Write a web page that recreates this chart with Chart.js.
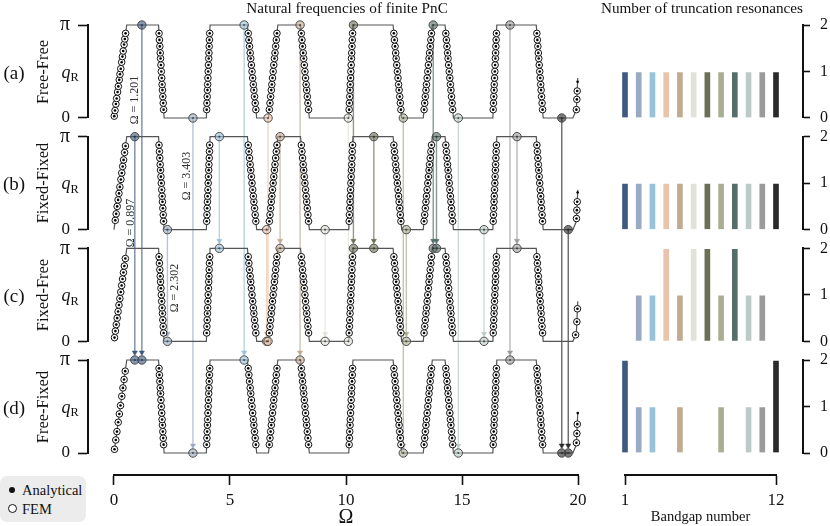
<!DOCTYPE html>
<html>
<head>
<meta charset="utf-8">
<title>Natural frequencies of finite PnC</title>
<script src="https://cdn.jsdelivr.net/npm/chart.js@4.4.1/dist/chart.umd.min.js"></script>
<style>
html,body{margin:0;padding:0;background:#fff;}
#wrap{position:relative;width:830px;height:526px;overflow:hidden;font-family:"Liberation Serif","Times New Roman",serif;color:#111;}
#wrap canvas{position:absolute;top:0;}
.t{position:absolute;white-space:nowrap;line-height:1;}
.c{transform:translate(-50%,-50%);}
.r{transform:translate(-50%,-50%) rotate(-90deg);}
#legend{position:absolute;left:0;top:476px;width:86px;height:46px;background:#ececec;border-radius:7px;}
.lg{position:absolute;left:22px;font-size:14.5px;line-height:1;}
.dot{position:absolute;left:9px;width:6px;height:6px;border-radius:50%;background:#111;}
.ring{position:absolute;left:8px;width:7px;height:7px;border-radius:50%;border:1px solid #111;background:#fff;}
</style>
</head>
<body>
<div id="wrap">
  <canvas id="main" width="600" height="526" style="left:0;width:600px;height:526px"></canvas>
  <canvas id="bars" width="230" height="526" style="left:600px;width:230px;height:526px"></canvas>
  <div id="legend">
    <div class="dot" style="top:11px"></div><div class="lg" style="top:7px">Analytical</div>
    <div class="ring" style="top:28px"></div><div class="lg" style="top:26px">FEM</div>
  </div>
</div>
<script>
const PI = Math.PI;
const SERIF = "'Liberation Serif','Times New Roman',serif";

// ---------------- data ----------------
// dispersion curve of the infinite PnC: vertices (Omega, q_R / pi)
const curveOmega = [0.00,0.55, 1.92,2.16, 3.98,4.14, 5.75,6.15, 6.66,7.06, 8.04,8.42, 10.12,10.30, 12.03,12.40, 13.33,13.72, 14.27,14.63, 16.33,16.50, 18.20,18.50, 19.78,19.93,19.99];
const curveQ     = [0,1, 1,0, 0,1, 1,0, 0,1, 1,0, 0,1, 1,0, 0,1, 1,0, 0,1, 1,0, 0,0.09,0.43];

// q_R/pi levels of the natural frequencies inside a pass band
const qBandLevels = [0.09,0.16,0.23,0.30,0.36,0.43,0.50,0.57,0.64,0.70,0.77,0.84,0.91];
const qBand1A = [0.02,0.08,0.15,0.21,0.28,0.34,0.41,0.47,0.53,0.60,0.66,0.72,0.79,0.85,0.91];
const qBand1B = [0.10,0.17,0.25,0.32,0.39,0.46,0.54,0.61,0.68,0.75,0.83,0.90];
const qBand1C = [0.04,0.11,0.18,0.25,0.32,0.39,0.46,0.53,0.60,0.67,0.74,0.81,0.89];
const qBand1D = [0.04,0.14,0.23,0.33,0.42,0.51,0.61,0.70,0.79,0.88];
const qBand13A = [0.09,0.20,0.29];
const qBand13B = [0.12,0.21,0.30];
const qBand13C = [0.07,0.21,0.35];
const qBand13D = [0.11,0.21,0.31];
const qOnlyA = [0.39];
const qOnlyB = [0.40];
const qOnlyC = [];
const qOnlyD = [0.43];

// truncation resonances (Omega, bandgap number, source panel)
const resA_omega = [1.201,3.403,5.61,6.64,8.02,10.10,10.32,12.47,13.76,14.84,17.07,19.30];
const resA_gap   = [1,2,3,4,5,6,7,8,9,10,11,12];
const resB_omega = [0.897,2.302,4.54,6.58,7.16,9.10,11.20,12.60,13.90,15.95,17.37,19.58];
const resB_gap   = [1,2,3,4,5,6,7,8,9,10,11,12];
const resC_omega = [2.302,4.54,6.58,6.64,7.16,9.10,10.10,10.32,11.20,12.60,13.76,13.90,15.95,17.37];
const resC_gap   = [2,3,4,4,5,6,6,7,7,8,9,9,10,11];
const resC_src   = ['b','b','b','a','b','b','a','a','b','b','a','b','b','b'];
const resD_omega = [0.897,1.201,3.403,5.61,8.02,12.47,14.84,17.07,19.30,19.58];
const resD_gap   = [1,1,2,3,5,8,10,11,12,12];
const resD_src   = ['b','a','a','a','a','a','a','a','a','b'];

// number of truncation resonances per bandgap
const bandgapNumbers = [1,2,3,4,5,6,7,8,9,10,11,12];
const countsA = [1,1,1,1,1,1,1,1,1,1,1,1];
const countsB = [1,1,1,1,1,1,1,1,1,1,1,1];
const countsC = [0,1,1,2,1,2,2,1,2,1,1,0];
const countsD = [2,1,1,0,1,0,0,1,0,1,1,2];
const gapColors = ['#3e5a80','#9aabc1','#98c2da','#e9c4ab','#c1aa8f','#e1e2da','#6a6f55','#a9ae93','#556e69','#bccbc7','#9b9b9b','#2a2a2a'];

const xTicks = [0,5,10,15,20];
const yTickVals = [0, PI];
const yTickLabels = ['0','π'];
const barYTicks = [0,1,2];
const barXTicks = [1,12];
const panelLetters = ['(a)','(b)','(c)','(d)'];
const bcNames = ['Free-Free','Fixed-Fixed','Fixed-Free','Free-Fixed'];
const omegaLabels = [ // [panel, Omega]
  [0, resA_omega[0]], [1, resB_omega[0]], [1, resA_omega[1]], [2, resB_omega[1]]
];

// ---------------- layout constants ----------------
const PANEL_PX = 93, GAP_PX = 18.67, TOP_PX = 25;
const GAPU = PI * GAP_PX / PANEL_PX;
const YMAX = 4*PI + 3*GAPU;
const PXU = PI / PANEL_PX;
function yAll(p, qf){ return YMAX - p*(PI+GAPU) - PI + qf*PI; }

// bands = runs of non-flat curve segments
const BANDS = (function(){ const out=[]; let cur=null;
  for (let i=0;i<curveOmega.length-1;i++){
    if (curveQ[i]!==curveQ[i+1]) { if(!cur){cur=[i];out.push(cur);} cur.push(i+1);} else cur=null;
  } return out; })();
function omegaAt(b, q){
  const idx = BANDS[b];
  for (let k=0;k<idx.length-1;k++){
    const i=idx[k], j=idx[k+1];
    const lo=Math.min(curveQ[i],curveQ[j]), hi=Math.max(curveQ[i],curveQ[j]);
    if (q>=lo && q<=hi){ const t=(q-curveQ[i])/(curveQ[j]-curveQ[i]); return curveOmega[i]+t*(curveOmega[j]-curveOmega[i]); }
  }
  return curveOmega[idx[idx.length-1]];
}
function gapLevel(g){ const b = BANDS[g-1]; return curveQ[b[b.length-1]]; }
function rgba(hex,a){ const n=parseInt(hex.slice(1),16); return `rgba(${n>>16},${(n>>8)&255},${n&255},${a})`; }

const axisIds = ['pa','pb','pc','pd'];
const panelDefs = [
  {q1:qBand1A, q13:qBand13A, qOnly:qOnlyA, resOmega:resA_omega, resGap:resA_gap},
  {q1:qBand1B, q13:qBand13B, qOnly:qOnlyB, resOmega:resB_omega, resGap:resB_gap},
  {q1:qBand1C, q13:qBand13C, qOnly:qOnlyC, resOmega:resC_omega, resGap:resC_gap},
  {q1:qBand1D, q13:qBand13D, qOnly:qOnlyD, resOmega:resD_omega, resGap:resD_gap}
];

Chart.defaults.font.family = SERIF;
Chart.defaults.color = '#111';

const datasets = [];
panelDefs.forEach((pd, p) => {
  const ax = axisIds[p];
  datasets.push({ label:'curve'+p, yAxisID:ax, xAxisID:'x', showLine:true,
    data: curveOmega.map((o,i)=>({x:o, y:curveQ[i]*PI})),
    borderColor:'#555', borderWidth:1.2, pointRadius:0, order:8, clip:false });
  const fem = [], ana = [];
  for (let b=0;b<BANDS.length;b++){
    const lv = b===0 ? pd.q1 : (b===BANDS.length-1 ? pd.q13 : qBandLevels);
    lv.forEach(q => { const pt={x:omegaAt(b,q), y:q*PI}; fem.push(pt); ana.push(pt); });
  }
  pd.qOnly.forEach(q => ana.push({x:omegaAt(BANDS.length-1,q), y:q*PI}));
  datasets.push({ label:'fem'+p, yAxisID:ax, xAxisID:'x', data:fem, pointRadius:3.3, pointHoverRadius:3.3,
    pointBackgroundColor:'#fff', pointBorderColor:'#111', pointBorderWidth:1, order:4, clip:false });
  datasets.push({ label:'ana'+p, yAxisID:ax, xAxisID:'x', data:ana, pointRadius:1.3, pointHoverRadius:1.3,
    pointBackgroundColor:'#000', pointBorderWidth:0, order:3, clip:false });
  const res = pd.resOmega.map((o,i)=>({x:o, y:gapLevel(pd.resGap[i])*PI}));
  datasets.push({ label:'res'+p, yAxisID:ax, xAxisID:'x', data:res, pointRadius:4.2, pointHoverRadius:4.2,
    pointBackgroundColor: pd.resGap.map(g=>rgba(gapColors[g-1],0.62)), pointBorderColor:'#4a4a4a', pointBorderWidth:1, order:2, clip:false });
  datasets.push({ label:'resc'+p, yAxisID:ax, xAxisID:'x', data:res, pointRadius:1.1, pointHoverRadius:1.1,
    pointBackgroundColor:'rgba(20,20,20,0.6)', pointBorderWidth:0, order:1, clip:false });
});

// connectors from (a)/(b) to (c)/(d)
[[2,resC_omega,resC_gap,resC_src],[3,resD_omega,resD_gap,resD_src]].forEach(([pt,om,gp,src]) => {
  om.forEach((o,i) => {
    const lvl = gapLevel(gp[i]);
    const ps = src[i]==='a' ? 0 : 1;
    const col = gapColors[gp[i]-1];
    const yEnd = yAll(pt,lvl) + 7.5*PXU;
    datasets.push({ label:'conn', yAxisID:'yAll', xAxisID:'x', showLine:true,
      data:[{x:o,y:yAll(ps,lvl)},{x:o,y:yEnd}], borderColor:rgba(col,0.7), borderWidth:1.4,
      pointRadius:0, order:9, clip:false });
    datasets.push({ label:'arrow', yAxisID:'yAll', xAxisID:'x', data:[{x:o,y:yEnd}],
      pointStyle:'triangle', pointRotation:180, pointRadius:3, pointHoverRadius:3,
      pointBackgroundColor:col, pointBorderColor:col, pointBorderWidth:0.5, order:7, clip:false });
  });
});

function panelAxisL(weight){ return {
  type:'linear', position:'left', stack:'p', stackWeight:PI, weight, min:0, max:PI,
  afterBuildTicks: s => { s.ticks = yTickVals.map(v=>({value:v})); },
  afterFit: s => { s.width = 40; },
  ticks:{ padding:8, color:'#111', autoSkip:false,
    font: c => ({family:SERIF, size: (c.tick && c.tick.value>0) ? 20 : 17}),
    callback: v => yTickLabels[yTickVals.indexOf(v)] },
  grid:{ drawOnChartArea:false, drawTicks:true, tickLength:10, tickWidth:1.6, tickColor:'#111' },
  border:{ display:true, color:'#111', width:2 }
};}
function gapAxis(pos, weight){ return { type:'linear', position:pos, stack:'p', stackWeight:GAPU, weight, display:false, min:0, max:1 }; }
function spacer(pos, weight, size){ return { type:'linear', position:pos, weight, min:0, max:1, display:true,
  ticks:{display:false}, grid:{display:false}, border:{display:false},
  afterFit: s => { if (pos==='left'||pos==='right') s.width=size; else s.height=size; } }; }

const mainScales = {
  x: { type:'linear', position:'bottom', weight:1, min:0, max:20, offset:false,
    afterBuildTicks: s => { s.ticks = xTicks.map(v=>({value:v})); },
    afterFit: s => { s.height = 51; },
    ticks:{ padding:5, font:{size:17}, color:'#111' },
    grid:{ drawOnChartArea:false, offset:false, tickLength:10, tickWidth:1.6, tickColor:'#111' },
    border:{ color:'#111', width:2 },
    title:{ display:true, text:'Ω', font:{size:20, lineHeight:0.8}, padding:{top:0,bottom:0}, color:'#111' } },
  xsp: spacer('bottom', 0, 22),
  sp: spacer('left', 1, 26),
  yAll: { type:'linear', position:'left', weight:0, display:false, min:0, max:YMAX }
};
axisIds.forEach((id,p) => { mainScales[id] = panelAxisL(20-2*p); if (p<3) mainScales['g'+(p+1)] = gapAxis('left', 19-2*p); });

new Chart(document.getElementById('main'), {
  type:'scatter',
  data:{ datasets },
  options:{ responsive:false, animation:false, events:[],
    layout:{ padding:{ left:48, right:22, top:TOP_PX, bottom:0 } },
    plugins:{ legend:{display:false}, tooltip:{enabled:false}, title:{display:false} },
    scales: mainScales }
});

// ---------------- bars ----------------
function panelAxisR(weight){ return {
  type:'linear', position:'right', stack:'p', stackWeight:PI, weight, min:0, max:2,
  afterBuildTicks: s => { s.ticks = barYTicks.map(v=>({value:v})); },
  afterFit: s => { s.width = 27; },
  ticks:{ padding:10, font:{size:16}, color:'#111' },
  grid:{ drawOnChartArea:false, tickLength:7, tickWidth:1.6, tickColor:'#111' },
  border:{ color:'#111', width:2 }
};}
const barScales = {
  x: { type:'linear', position:'bottom', weight:1, min:1, max:12, offset:false,
    afterBuildTicks: s => { s.ticks = barXTicks.map(v=>({value:v})); },
    afterFit: s => { s.height = 51; },
    ticks:{ padding:5, font:{size:17}, color:'#111' },
    grid:{ drawOnChartArea:false, offset:false, tickLength:10, tickWidth:1.6, tickColor:'#111' },
    border:{ color:'#111', width:2 },
    title:{ display:true, text:'Bandgap number', font:{size:14.5, lineHeight:1.2}, padding:{top:0,bottom:0}, color:'#111' } },
  xsp: spacer('bottom', 0, 22),
  sp: spacer('right', 0, 27)
};
axisIds.forEach((id,p) => { barScales[id] = panelAxisR(1+2*p); if (p<3) barScales['g'+(p+1)] = gapAxis('right', 2+2*p); });

new Chart(document.getElementById('bars'), {
  type:'bar',
  data:{ datasets: [countsA,countsB,countsC,countsD].map((cnt,p)=>({
    label:'counts'+p, yAxisID:axisIds[p], xAxisID:'x',
    data: cnt.map((c,i)=>({x:bandgapNumbers[i], y:c})),
    backgroundColor: gapColors, borderColor:'rgba(255,255,255,0.5)', borderWidth:1, barThickness:7, grouped:false, clip:false })) },
  options:{ responsive:false, animation:false, events:[],
    layout:{ padding:{ left:25, right:0, top:TOP_PX, bottom:0 } },
    plugins:{ legend:{display:false}, tooltip:{enabled:false} },
    scales: barScales }
});

// ---------------- text ----------------
const wrap = document.getElementById('wrap');
function addText(html, x, y, size, cls, extra){
  const d = document.createElement('div');
  d.className = 't ' + cls; d.innerHTML = html;
  d.style.left = x+'px'; d.style.top = y+'px'; d.style.fontSize = size+'px';
  if (extra) d.style.cssText += extra;
  wrap.appendChild(d); return d;
}
addText('Natural frequencies of finite PnC', 347, 8, 15.2, 'c');
addText('Number of truncation resonances', 702, 8, 15.2, 'c');
panelLetters.forEach((L,p) => {
  const cy = TOP_PX + p*(PANEL_PX+GAP_PX) + PANEL_PX/2;
  addText(L, 14, cy, 19, 'c');
  addText(bcNames[p], 43, cy, 16.5, 'r');
  addText('<i>q</i><span style="font-size:0.68em;position:relative;top:0.3em">R</span>', 70, cy, 18, 'c');
});
omegaLabels.forEach(([p,o], k) => {
  const pos = [[134,100],[130,223],[186,176],[174,288]][k];
  addText('Ω = ' + o.toFixed(3), pos[0], pos[1], 12, 'r', 'color:#333;');
});
</script>
</body>
</html>
